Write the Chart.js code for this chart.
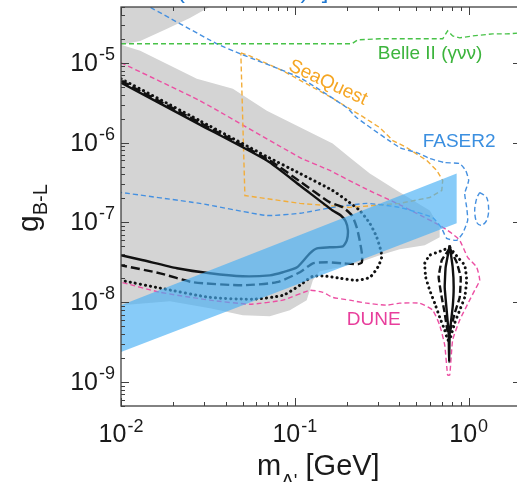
<!DOCTYPE html>
<html>
<head>
<meta charset="utf-8">
<title>B-L gauge boson sensitivity</title>
<script src="https://cdn.jsdelivr.net/npm/chart.js@4.4.1/dist/chart.umd.min.js"></script>
<style>
  html, body { margin: 0; padding: 0; background: #fff; overflow: hidden; }
  #wrap { width: 517px; height: 482px; overflow: hidden; }
  canvas { display: block; }
</style>
</head>
<body>
<div id="wrap"><canvas id="chart" width="530" height="482"></canvas></div>
<script>
// axis ranges and tick labels (powers of ten)
const xRange = [0.01, 2];
const yRange = [5e-10, 5e-5];
const xTickExps = [-2, -1, 0];
const yTickExps = [-9, -8, -7, -6, -5];

// [mass (GeV), coupling] pairs
const grayCorner = [[0.01, 6e-5], [0.0375, 6e-5], [0.0249, 3.65e-5], [0.0184, 2.66e-5], [0.0129, 1.88e-5], [0.01, 1.68e-5]];
const grayMain = [[0.01, 1.68e-5], [0.0129, 1.41e-5], [0.0273, 6.31e-6], [0.044, 4.73e-6], [0.069, 2.51e-6], [0.165, 9.72e-7],
  [0.207, 6.49e-7], [0.27, 4.1e-7], [0.386, 2.51e-7], [0.597, 1.41e-7], [0.681, 8.66e-8], [0.681, 6.49e-8], [0.559, 5.16e-8],
  [0.401, 4.6e-8], [0.308, 3.87e-8], [0.227, 3.07e-8], [0.181, 2.74e-8], [0.139, 2.44e-8], [0.127, 1.88e-8], [0.117, 1.06e-8],
  [0.0936, 7.94e-9], [0.0718, 6.68e-9], [0.0502, 6.88e-9], [0.0325, 8.41e-9], [0.0191, 1.03e-8], [0.01, 9.17e-9]];

const bandMass = [0.01, 0.853];
const bandUpper = [9.17e-9, 4.1e-7];
const bandLower = [2.37e-9, 9.72e-8];

const belleII = [[0.01, 1.73e-5], [0.213, 1.73e-5], [0.23, 1.94e-5], [0.308, 2e-5], [0.709, 2e-5], [0.757, 2.51e-5],
  [0.809, 2.17e-5], [0.888, 2.05e-5], [1.054, 2.17e-5], [1.374, 2.3e-5], [1.653, 2.3e-5], [2.0, 2.37e-5]];

const faser2 = [[0.0135, 5.5e-5], [0.0356, 1.73e-5], [0.0483, 1.3e-5], [0.107, 6.49e-6], [0.199, 2.74e-6], [0.227, 2.05e-6],
  [0.401, 8.66e-7], [0.502, 7.5e-7], [0.597, 6.31e-7], [0.728, 5.62e-7], [0.888, 5.46e-7], [0.961, 4.47e-7], [1.0, 3.35e-7],
  [0.949, 2.3e-7], [0.974, 1.54e-7], [0.987, 1.06e-7], [0.924, 7.29e-8], [0.853, 5.96e-8], [0.747, 6.31e-8], [0.7, 8.41e-8],
  [0.621, 1.15e-7], [0.401, 1.54e-7], [0.259, 1.73e-7], [0.165, 1.54e-7], [0.107, 1.3e-7], [0.069, 1.22e-7], [0.0284, 1.73e-7],
  [0.01, 2.37e-7]];
const faser2Island = [[1.157, 2.37e-7], [1.269, 2.05e-7], [1.303, 1.41e-7], [1.269, 1.06e-7], [1.188, 9.17e-8], [1.112, 1e-7],
  [1.083, 1.41e-7], [1.112, 2e-7], [1.157, 2.37e-7]];

const seaQuest = [[0.0489, 1.33e-5], [0.0551, 1.22e-5], [0.0853, 7.94e-6], [0.159, 3.76e-6], [0.246, 2.11e-6], [0.308, 1.54e-6],
  [0.366, 1.06e-6], [0.44, 8.66e-7], [0.574, 5.96e-7], [0.655, 4.47e-7], [0.709, 3.35e-7], [0.7, 2.51e-7], [0.597, 2.05e-7],
  [0.401, 1.73e-7], [0.207, 1.54e-7], [0.107, 1.73e-7], [0.0516, 2.17e-7], [0.0489, 1.33e-5]];

const dune = [[0.01, 1e-5], [0.0284, 3.35e-6], [0.107, 6.49e-7], [0.159, 4.47e-7], [0.246, 2.74e-7], [0.386, 1.73e-7],
  [0.502, 1.3e-7], [0.681, 9.17e-8], [0.757, 7.94e-8], [0.798, 7.29e-8], [0.888, 5.96e-8], [0.987, 3.65e-8], [1.112, 2.74e-8],
  [1.157, 1.88e-8], [1.083, 1.41e-8], [1.013, 1.06e-8], [0.888, 5.96e-9], [0.809, 3.35e-9], [0.778, 1.22e-9], [0.757, 1.22e-9],
  [0.728, 2.9e-9], [0.681, 5.16e-9], [0.621, 7.94e-9], [0.523, 9.72e-9], [0.401, 9.72e-9], [0.338, 9.17e-9], [0.259, 9.72e-9],
  [0.207, 1.06e-8], [0.165, 1.15e-8], [0.145, 1.33e-8], [0.122, 1.41e-8], [0.0853, 1.06e-8], [0.0551, 9.44e-9],
  [0.0325, 1.06e-8], [0.0168, 1.33e-8], [0.01, 1.78e-8]];

const solidMain = [[0.01, 5.62e-6], [0.0284, 1.68e-6], [0.069, 5.96e-7], [0.107, 2.9e-7], [0.165, 1.41e-7], [0.184, 1.22e-7],
  [0.196, 1.03e-7], [0.202, 7.94e-8], [0.199, 5.96e-8], [0.189, 5.01e-8], [0.159, 4.87e-8], [0.134, 4.73e-8], [0.122, 4.1e-8],
  [0.103, 2.74e-8], [0.0853, 2.37e-8], [0.0718, 2.17e-8], [0.0502, 2.11e-8], [0.0325, 2.3e-8], [0.021, 2.66e-8],
  [0.0134, 3.35e-8], [0.01, 3.87e-8]];
const solidLobe = [[0.778, 5.16e-8], [0.737, 2.74e-8], [0.728, 1.54e-8], [0.747, 7.94e-9], [0.767, 4.1e-9], [0.772, 1.78e-9],
  [0.778, 4.1e-9], [0.809, 8.66e-9], [0.82, 1.54e-8], [0.809, 2.74e-8], [0.778, 5.16e-8]];

const dashedMain = [[0.01, 5.96e-6], [0.0284, 1.78e-6], [0.0718, 5.96e-7], [0.107, 3.26e-7], [0.159, 1.78e-7], [0.189, 1.54e-7],
  [0.213, 1.22e-7], [0.227, 8.66e-8], [0.236, 5.96e-8], [0.243, 4.1e-8], [0.243, 3.16e-8], [0.23, 2.99e-8], [0.189, 3.07e-8],
  [0.153, 3.16e-8], [0.127, 3.07e-8], [0.107, 2.37e-8], [0.0788, 1.78e-8], [0.0502, 1.63e-8], [0.0259, 1.78e-8],
  [0.0168, 2.3e-8], [0.01, 2.9e-8]];
const dashedLobe = [[0.778, 4.73e-8], [0.7, 3.35e-8], [0.672, 2.05e-8], [0.7, 1.15e-8], [0.728, 7.29e-9], [0.757, 4.22e-9],
  [0.778, 4.22e-9], [0.831, 7.29e-9], [0.888, 1.15e-8], [0.9, 2.05e-8], [0.853, 3.16e-8], [0.778, 4.73e-8]];

const dottedMain = [[0.01, 6.31e-6], [0.0284, 1.88e-6], [0.069, 6.68e-7], [0.107, 4.1e-7], [0.165, 2.51e-7], [0.199, 1.88e-7],
  [0.236, 1.41e-7], [0.27, 9.72e-8], [0.296, 6.49e-8], [0.312, 4.47e-8], [0.316, 3.65e-8], [0.3, 2.74e-8], [0.27, 2.05e-8],
  [0.227, 1.88e-8], [0.181, 2e-8], [0.153, 2.11e-8], [0.127, 2.11e-8], [0.107, 1.63e-8], [0.0853, 1.22e-8], [0.0574, 1.09e-8],
  [0.0325, 1.15e-8], [0.0168, 1.5e-8], [0.01, 1.88e-8]];
const dottedLobe = [[0.778, 4.87e-8], [0.709, 4.47e-8], [0.597, 3.87e-8], [0.559, 3.07e-8], [0.566, 2.05e-8], [0.597, 1.41e-8],
  [0.638, 9.72e-9], [0.681, 6.49e-9], [0.728, 4.47e-9], [0.757, 3.35e-9], [0.778, 3.35e-9], [0.831, 5.46e-9], [0.888, 7.94e-9],
  [0.949, 1.15e-8], [0.974, 1.88e-8], [0.949, 2.9e-8], [0.865, 3.65e-8], [0.778, 4.87e-8]];

const FONT = '"Liberation Sans", Arial, sans-serif';
const COLORS = {
  gray: '#d4d4d4',
  band: 'rgba(70, 175, 245, 0.65)',
  green: '#48c248', greenText: '#3cb43c',
  orange: '#f2ad3a', orangeText: '#f5a623',
  blue: '#4590e0', blueText: '#3b8fe0',
  pink: '#ec4fa3', pinkText: '#e83e9c',
  black: '#111'
};

const pts = arr => arr.map(([x, y]) => ({x, y}));

function lineSet(data, color, width, dash, order, tension = 0.2, cap = 'butt') {
  return {
    data: pts(data), showLine: true, fill: false, borderColor: color, borderWidth: width,
    borderDash: dash, borderCapStyle: cap, tension, order, pointRadius: 0
  };
}

function areaSet(data, color, order) {
  return {
    data: pts(data), showLine: true, fill: 'shape', backgroundColor: color,
    borderColor: 'rgba(0,0,0,0)', borderWidth: 0, tension: 0, order, pointRadius: 0
  };
}

const bandPoly = [
  [bandMass[0], bandUpper[0]], [bandMass[1], bandUpper[1]],
  [bandMass[1], bandLower[1]], [bandMass[0], bandLower[0]]
];

const datasets = [
  areaSet(bandPoly, COLORS.band, 0),
  lineSet(solidMain, COLORS.black, 2.4, [], 1),
  lineSet(solidLobe, COLORS.black, 2.4, [], 1, 0.1),
  lineSet(dashedMain, COLORS.black, 2.4, [9, 4], 1),
  lineSet(dashedLobe, COLORS.black, 2.4, [7, 3], 1, 0.1),
  lineSet(dottedMain, COLORS.black, 3, [0.1, 5], 1, 0.2, 'round'),
  lineSet(dottedLobe, COLORS.black, 3, [0.1, 5], 1, 0.1, 'round'),
  lineSet(belleII, COLORS.green, 1.4, [5, 3], 2, 0),
  lineSet(faser2, COLORS.blue, 1.4, [5, 3], 2, 0.15),
  lineSet(faser2Island, COLORS.blue, 1.4, [5, 3], 2, 0.3),
  lineSet(seaQuest, COLORS.orange, 1.4, [5, 3], 2, 0),
  lineSet(dune, COLORS.pink, 1.4, [5, 3], 2, 0.15),
  areaSet(grayMain, COLORS.gray, 3),
  areaSet(grayCorner, COLORS.gray, 3)
];

// "10" with a raised exponent
function drawPower(ctx, exp, x, baseY, supRise, align) {
  const base = '10', sup = String(exp);
  ctx.font = '25px ' + FONT;
  const wb = ctx.measureText(base).width;
  ctx.font = '18px ' + FONT;
  const ws = ctx.measureText(sup).width;
  const total = wb + 1 + ws;
  const left = align === 'center' ? x - total / 2 : x - total;
  ctx.textAlign = 'left';
  ctx.textBaseline = 'alphabetic';
  ctx.font = '25px ' + FONT;
  ctx.fillText(base, left, baseY);
  ctx.font = '18px ' + FONT;
  ctx.fillText(sup, left + wb + 1, baseY - supRise);
}

const decor = {
  id: 'decor',
  afterDraw(chart) {
    const {ctx, chartArea: a, scales: {x, y}} = chart;
    ctx.save();

    // frame
    ctx.strokeStyle = '#404040';
    ctx.lineWidth = 1.3;
    ctx.strokeRect(a.left, a.top, a.right - a.left, a.bottom - a.top);

    // inward ticks on all four sides
    ctx.lineWidth = 1;
    ctx.beginPath();
    for (let e = -10; e <= 1; e++) {
      for (let k = 1; k <= 9; k++) {
        const v = k * Math.pow(10, e);
        const len = k === 1 ? 8 : 4;
        if (v >= xRange[0] && v <= xRange[1]) {
          const px = Math.round(x.getPixelForValue(v)) + 0.5;
          ctx.moveTo(px, a.bottom); ctx.lineTo(px, a.bottom - len);
          ctx.moveTo(px, a.top); ctx.lineTo(px, a.top + len);
        }
        if (v >= yRange[0] && v <= yRange[1]) {
          const py = Math.round(y.getPixelForValue(v)) + 0.5;
          ctx.moveTo(a.left, py); ctx.lineTo(a.left + len, py);
          ctx.moveTo(a.right, py); ctx.lineTo(a.right - len, py);
        }
      }
    }
    ctx.stroke();

    // tick labels
    ctx.fillStyle = '#1a1a1a';
    xTickExps.forEach(e => drawPower(ctx, e, x.getPixelForValue(Math.pow(10, e)), a.bottom + 36, 10, 'center'));
    yTickExps.forEach(e => drawPower(ctx, e, a.left - 6, y.getPixelForValue(Math.pow(10, e)) + 8, 11, 'right'));

    // x title: m_A' [GeV]
    ctx.textAlign = 'left';
    ctx.textBaseline = 'alphabetic';
    let tx = 257;
    ctx.font = '29px ' + FONT;
    ctx.fillText('m', tx, 475);
    tx += ctx.measureText('m').width;
    ctx.font = '19px ' + FONT;
    ctx.fillText("A'", tx, 487);
    tx += ctx.measureText("A'").width;
    ctx.font = '29px ' + FONT;
    ctx.fillText(' [GeV]', tx, 475);

    // y title: g_B-L
    ctx.save();
    ctx.translate(38, 208);
    ctx.rotate(-Math.PI / 2);
    ctx.font = '30px ' + FONT;
    const wg = ctx.measureText('g').width;
    ctx.font = '20px ' + FONT;
    const wsub = ctx.measureText('B-L').width;
    const start = -(wg + wsub) / 2;
    ctx.font = '30px ' + FONT;
    ctx.fillText('g', start, 0);
    ctx.font = '20px ' + FONT;
    ctx.fillText('B-L', start + wg, 9);
    ctx.restore();

    // curve labels, anchored in data coordinates
    ctx.font = '19px ' + FONT;
    ctx.textBaseline = 'middle';
    ctx.fillStyle = COLORS.greenText;
    ctx.fillText('Belle II (\u03b3\u03bd\u03bd)', x.getPixelForValue(0.30), y.getPixelForValue(1.3e-5));
    ctx.fillStyle = COLORS.blueText;
    ctx.fillText('FASER2', x.getPixelForValue(0.544), y.getPixelForValue(1.01e-6));
    ctx.fillStyle = COLORS.pinkText;
    ctx.fillText('DUNE', x.getPixelForValue(0.199), y.getPixelForValue(6.04e-9));
    ctx.save();
    ctx.translate(x.getPixelForValue(0.155), y.getPixelForValue(5.62e-6));
    ctx.rotate(25 * Math.PI / 180);
    ctx.textAlign = 'center';
    ctx.fillStyle = COLORS.orangeText;
    ctx.fillText('SeaQuest', 0, 0);
    ctx.restore();

    // title, cut off by the top of the image
    ctx.fillStyle = '#1f78d1';
    ctx.font = '24px ' + FONT;
    ctx.textBaseline = 'alphabetic';
    ctx.fillText('(B\u2212L model)  ]', 177, -2);

    ctx.restore();
  }
};

new Chart(document.getElementById('chart'), {
  type: 'scatter',
  data: {datasets},
  options: {
    responsive: false,
    animation: false,
    devicePixelRatio: 1,
    layout: {padding: {left: 121, top: 7, right: 9, bottom: 76}},
    plugins: {legend: {display: false}, tooltip: {enabled: false}},
    elements: {point: {radius: 0}},
    scales: {
      x: {type: 'logarithmic', min: xRange[0], max: xRange[1], display: false},
      y: {type: 'logarithmic', min: yRange[0], max: yRange[1], display: false}
    }
  },
  plugins: [decor]
});
</script>
</body>
</html>
